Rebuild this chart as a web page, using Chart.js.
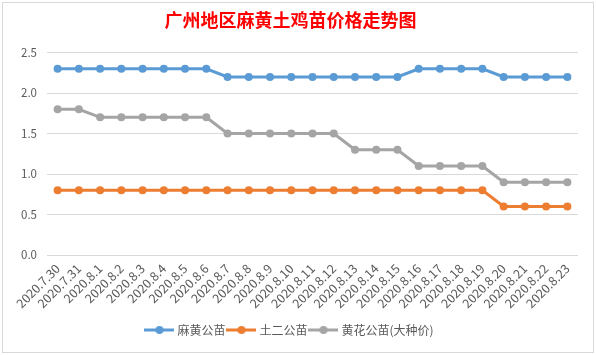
<!DOCTYPE html>
<html>
<head>
<meta charset="utf-8">
<script src="https://cdn.jsdelivr.net/npm/chart.js@4"></script>
<style>
  html, body { margin: 0; padding: 0; background: #fff; }
  #box { position: absolute; left: 2px; top: 2px; width: 590px; height: 349px; border: 1px solid #d9d9d9; background: #fff; }
  canvas { display: block; }
</style>
</head>
<body>
<div id="box"><canvas id="chart" width="590" height="349"></canvas></div>
<script>
const categories = ['2020.7.30', '2020.7.31', '2020.8.1', '2020.8.2', '2020.8.3', '2020.8.4', '2020.8.5', '2020.8.6',
    '2020.8.7', '2020.8.8', '2020.8.9', '2020.8.10', '2020.8.11', '2020.8.12', '2020.8.13', '2020.8.14',
    '2020.8.15', '2020.8.16', '2020.8.17', '2020.8.18', '2020.8.19', '2020.8.20', '2020.8.21', '2020.8.22', '2020.8.23'];

const mahuang = [2.3, 2.3, 2.3, 2.3, 2.3, 2.3, 2.3, 2.3, 2.2, 2.2, 2.2, 2.2, 2.2, 2.2, 2.2, 2.2, 2.2,
    2.3, 2.3, 2.3, 2.3, 2.2, 2.2, 2.2, 2.2];
const tuer = [0.8, 0.8, 0.8, 0.8, 0.8, 0.8, 0.8, 0.8, 0.8, 0.8, 0.8, 0.8, 0.8, 0.8, 0.8, 0.8, 0.8,
    0.8, 0.8, 0.8, 0.8, 0.6, 0.6, 0.6, 0.6];
const huanghua = [1.8, 1.8, 1.7, 1.7, 1.7, 1.7, 1.7, 1.7, 1.5, 1.5, 1.5, 1.5, 1.5, 1.5, 1.3, 1.3, 1.3,
    1.1, 1.1, 1.1, 1.1, 0.9, 0.9, 0.9, 0.9];

const seriesNames = ['麻黄公苗', '土二公苗', '黄花公苗(大种价)'];
const seriesColors = ['#5B9BD5', '#ED7D31', '#A5A5A5'];
const yTicks = [0, 0.5, 1.0, 1.5, 2.0, 2.5];

// legend marker: short line with a dot in the middle
function legendMarker(color) {
    const c = document.createElement('canvas');
    c.width = 30;
    c.height = 10;
    const g = c.getContext('2d');
    g.strokeStyle = color;
    g.lineWidth = 3;
    g.beginPath();
    g.moveTo(0, 5);
    g.lineTo(30, 5);
    g.stroke();
    g.fillStyle = color;
    g.beginPath();
    g.arc(15, 5, 4, 0, Math.PI * 2);
    g.fill();
    return c;
}

const markers = seriesColors.map(legendMarker);
const allSeries = [mahuang, tuer, huanghua];

const ctx = document.getElementById('chart').getContext('2d');
const chart = new Chart(ctx, {
    type: 'line',
    data: {
        labels: categories,
        datasets: allSeries.map((vals, i) => ({
            label: seriesNames[i],
            data: vals,
            borderColor: seriesColors[i],
            backgroundColor: seriesColors[i],
            pointBackgroundColor: seriesColors[i],
            pointBorderWidth: 0,
            pointRadius: 4,
            borderWidth: 3,
            tension: 0
        }))
    },
    options: {
        responsive: false,
        animation: false,
        layout: { padding: { left: 0, right: 15, top: 0, bottom: 6 } },
        font: { family: "'Noto Sans CJK SC', sans-serif" },
        plugins: {
            title: {
                display: true,
                text: '广州地区麻黄土鸡苗价格走势图',
                color: '#FF0000',
                font: { family: "'Noto Sans CJK SC', serif", size: 18, weight: 'bold' },
                padding: { top: 6, bottom: 22 }
            },
            legend: {
                position: 'bottom',
                labels: {
                    usePointStyle: true,
                    pointStyleWidth: 24,
                    color: '#595959',
                    padding: 4,
                    font: { family: "'Noto Sans CJK SC', sans-serif", size: 12 },
                    generateLabels: (ch) => Chart.defaults.plugins.legend.labels.generateLabels(ch)
                        .map((item, i) => Object.assign(item, { pointStyle: markers[i] }))
                }
            },
            tooltip: { enabled: false }
        },
        scales: {
            x: {
                offset: true,
                grid: { display: false, drawTicks: false },
                border: { display: false },
                ticks: {
                    autoSkip: false,
                    minRotation: 45,
                    maxRotation: 45,
                    padding: 6,
                    color: '#595959',
                    font: { family: "'Noto Sans CJK SC', sans-serif", size: 12.5 }
                },
                afterFit: (scale) => { scale.height = 65; }
            },
            y: {
                min: 0,
                max: 2.5,
                grid: { color: '#d9d9d9', lineWidth: 1, drawTicks: false },
                border: { display: false },
                afterBuildTicks: (scale) => { scale.ticks = yTicks.map(v => ({ value: v })); },
                ticks: {
                    padding: 10,
                    color: '#595959',
                    font: { family: "'Noto Sans CJK SC', sans-serif", size: 11.5 },
                    callback: (v) => Number(v).toFixed(1)
                },
                afterFit: (scale) => { scale.width = 44; }
            }
        }
    }
});
</script>
</body>
</html>
